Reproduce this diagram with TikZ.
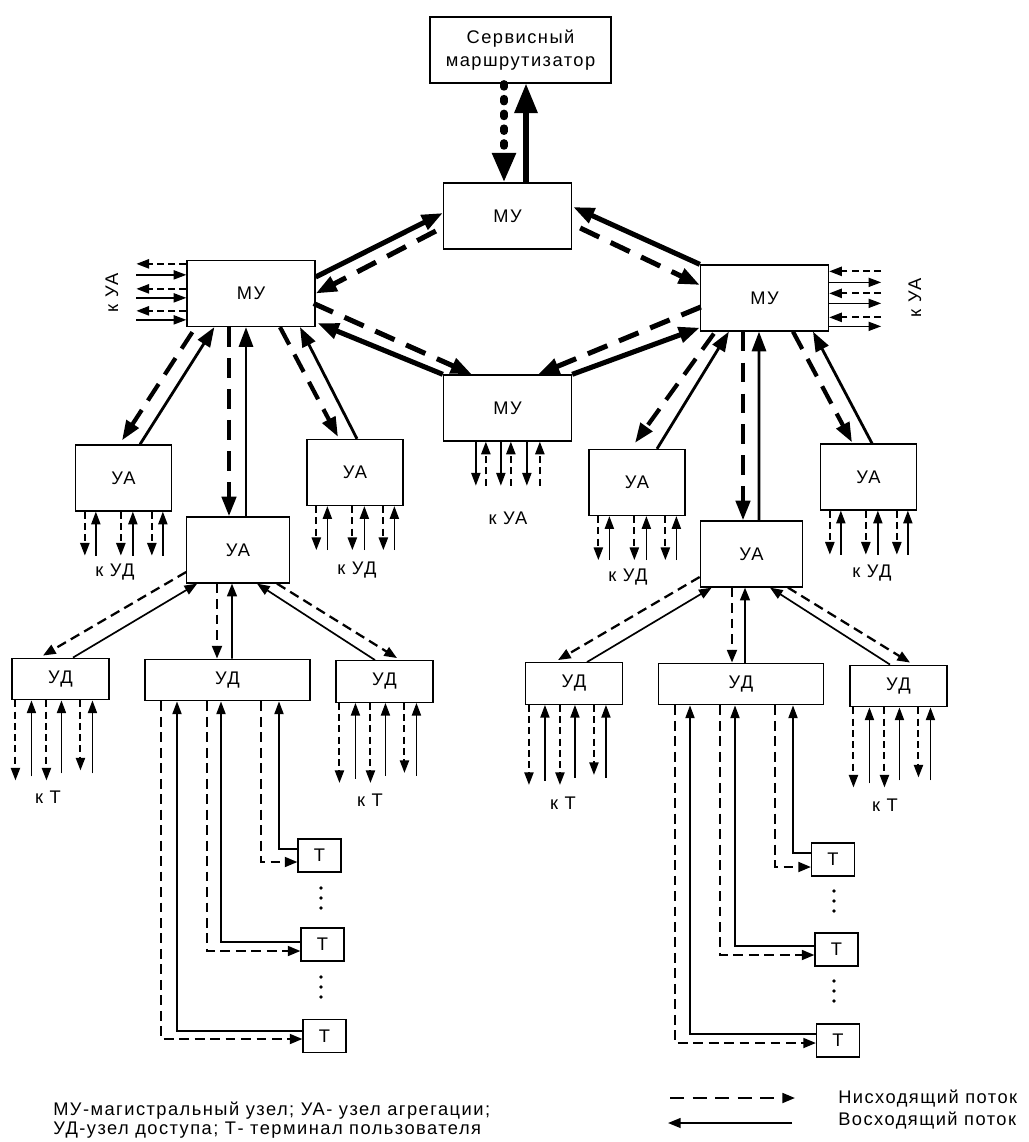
\documentclass[tikz,border=0pt]{standalone}
\usepackage{fontspec}
\setmainfont{Liberation Sans}
\newfontfamily\lblfont[LetterSpace=8]{Liberation Sans}
\usetikzlibrary{arrows.meta}

\tikzset{
  box/.style={draw, line width=0.9pt, inner sep=0pt, align=center,
    font=\lblfont\fontsize{13}{16}\selectfont},
  srbox/.style={box, minimum width=4.52cm, minimum height=1.65cm},
  mubox/.style={box, minimum width=3.2cm, minimum height=1.65cm},
  uabox/.style={box, minimum width=2.4cm, minimum height=1.65cm},
  uabig/.style={box, minimum width=2.56cm, minimum height=1.65cm},
  udbox/.style={box, minimum width=2.42cm, minimum height=1.04cm},
  udbig/.style={box, minimum width=4.12cm, minimum height=1.04cm},
  tbox/.style={box, minimum width=1.07cm, minimum height=0.82cm},
  lbl/.style={inner sep=0pt, font=\lblfont\fontsize{13}{13}\selectfont},
  % thick links between trunk nodes
  big/.style={line width=3.6pt, -{Triangle[length=15pt,width=11pt]}},
  bigdash/.style={big, dash pattern=on 15pt off 9pt},
  bigup/.style={line width=3.6pt, -{Triangle[length=21pt,width=16pt]}},
  dotline/.style={line width=5pt, line cap=round, dash pattern=on 2.5pt off 8pt,
    -{Triangle[length=21pt,width=16pt]}},
  mid/.style={line width=2pt, -{Triangle[length=14pt,width=10pt]}},
  middash/.style={line width=3pt, dash pattern=on 14pt off 8pt,
    -{Triangle[length=14pt,width=10pt]}},
  low/.style={line width=1.2pt, -{Triangle[length=9pt,width=7pt]}},
  lowdash/.style={low, line width=1.6pt, dash pattern=on 7pt off 4pt},
  stub/.style={line width=1pt, -{Triangle[length=9pt,width=6.5pt]}},
  stubdash/.style={stub, line width=1.4pt, dash pattern=on 5pt off 3pt},
}

\begin{document}
\begin{tikzpicture}[x=0.025cm, y=-0.025cm]
\useasboundingbox (0,0) rectangle (1029,1142);

% nodes
\node[srbox] (sr) at (520.5,50) {Сервисный\\маршрутизатор};
\node[mubox] (mu0) at (507.5,216) {МУ};
\node[mubox] (muL) at (251,293.5) {МУ};
\node[mubox] (muR) at (764.5,298) {МУ};
\node[mubox] (muC) at (507.5,408) {МУ};

\node[uabox] (uaL1) at (123.5,478) {УА};
\node[uabig] (uaL2) at (238,550) {УА};
\node[uabox] (uaL3) at (355,472.5) {УА};
\node[uabox] (uaR1) at (637,482.5) {УА};
\node[uabig] (uaR2) at (751.5,554) {УА};
\node[uabox] (uaR3) at (868.5,477) {УА};

\node[udbox] (udL1) at (60.5,679) {УД};
\node[udbig] (udL2) at (227.5,680) {УД};
\node[udbox] (udL3) at (384.5,681.5) {УД};
\node[udbox] (udR1) at (574,683.5) {УД};
\node[udbig] (udR2) at (741,684) {УД};
\node[udbox] (udR3) at (898.5,686) {УД};

\node[tbox] (tL1) at (319.5,855.5) {Т};
\node[tbox] (tL2) at (322.5,944.5) {Т};
\node[tbox] (tL3) at (324.5,1036) {Т};
\node[tbox] (tR1) at (833,859.5) {Т};
\node[tbox] (tR2) at (836.5,949.5) {Т};
\node[tbox] (tR3) at (838,1040.5) {Т};

% router
\draw[dotline] ([shift={(-16.5,0)}]sr.south) -- ([shift={(-3.5,0)}]mu0.north);
\draw[bigup] ([shift={(18.5,0)}]mu0.north) -- ([shift={(5.5,0)}]sr.south);

% trunk ring
\draw[big] ([shift={(0,-16.5)}]muL.east) -- ([shift={(0,-3)}]mu0.west);
\draw[bigdash] ([shift={(-7,15)}]mu0.west) -- (muL.east);
\draw[big] (muC.north west) -- ([shift={(2,-4)}]muL.south east);
\draw[bigdash] ([shift={(-2,10)}]muL.east) -- ([shift={(29,0)}]muC.north west);
\draw[big] (muR.north west) -- ([shift={(1,-9)}]mu0.east);
\draw[bigdash] ([shift={(8,12)}]mu0.east) -- ([shift={(0,-13)}]muR.west);
\draw[big] (muC.north east) -- ([shift={(0,-4)}]muR.south west);
\draw[bigdash] ([shift={(1,9)}]muR.west) -- ([shift={(-34,0)}]muC.north east);

% trunk to aggregation, left
\draw[middash] ([shift={(6,5)}]muL.south west) -- ([shift={(-1.5,-4)}]uaL1.north);
\draw[mid] ([shift={(16.5,0)}]uaL1.north) -- ([shift={(28,0)}]muL.south west);
\draw[middash] ([shift={(-22,0)}]muL.south) -- ([shift={(-9,0)}]uaL2.north);
\draw[mid] ([shift={(8,0)}]uaL2.north) -- ([shift={(-5,0)}]muL.south);
\draw[middash] ([shift={(29,0)}]muL.south) -- ([shift={(-17,-2)}]uaL3.north);
\draw[mid] ([shift={(2,0)}]uaL3.north) -- ([shift={(49,0)}]muL.south);

% trunk to aggregation, right
\draw[middash] ([shift={(14,2)}]muR.south west) -- ([shift={(-2,-6)}]uaR1.north);
\draw[mid] ([shift={(20,0)}]uaR1.north) -- ([shift={(29,0)}]muR.south west);
\draw[middash] ([shift={(-21.5,0)}]muR.south) -- ([shift={(-8.5,0)}]uaR2.north);
\draw[mid] ([shift={(7.5,0)}]uaR2.north) -- ([shift={(-5.5,0)}]muR.south);
\draw[middash] ([shift={(28.5,0)}]muR.south) -- ([shift={(-16.5,-1)}]uaR3.north);
\draw[mid] ([shift={(3.5,0)}]uaR3.north) -- ([shift={(48.5,0)}]muR.south);

% aggregation to access
\draw[lowdash] ([shift={(0,22)}]uaL2.west) -- ([shift={(-17.5,-2)}]udL1.north);
\draw[low] ([shift={(12.5,0)}]udL1.north) -- ([shift={(11,0)}]uaL2.south west);
\draw[lowdash] ([shift={(-21,0)}]uaL2.south) -- ([shift={(-10.5,0)}]udL2.north);
\draw[low] ([shift={(4.5,0)}]udL2.north) -- ([shift={(-6,0)}]uaL2.south);
\draw[low] ([shift={(-9.5,0)}]udL3.north) -- ([shift={(19,0)}]uaL2.south);
\draw[lowdash] ([shift={(39,0)}]uaL2.south) -- ([shift={(12.5,-2)}]udL3.north);

\draw[lowdash] ([shift={(0,23)}]uaR2.west) -- ([shift={(-16,-2)}]udR1.north);
\draw[low] ([shift={(13,0)}]udR1.north) -- ([shift={(12,0)}]uaR2.south west);
\draw[lowdash] ([shift={(-19.5,0)}]uaR2.south) -- ([shift={(-9,0)}]udR2.north);
\draw[low] ([shift={(4,0)}]udR2.north) -- ([shift={(-6.5,0)}]uaR2.south);
\draw[low] ([shift={(-8.5,0)}]udR3.north) -- ([shift={(18.5,0)}]uaR2.south);
\draw[lowdash] ([shift={(36.5,0)}]uaR2.south) -- ([shift={(11.5,-2)}]udR3.north);

% access to terminals
\draw[stub] ([shift={(0,-6.5)}]tL1.west) -| ([shift={(51.5,0)}]udL2.south);
\draw[lowdash] ([shift={(33.5,0)}]udL2.south) |- ([shift={(0,6.5)}]tL1.west);
\draw[stub] ([shift={(0,-2.5)}]tL2.west) -| ([shift={(-6.5,0)}]udL2.south);
\draw[lowdash] ([shift={(-20.5,0)}]udL2.south) |- ([shift={(0,6.5)}]tL2.west);
\draw[stub] ([shift={(0,-5)}]tL3.west) -| ([shift={(-50.5,0)}]udL2.south);
\draw[lowdash] ([shift={(-66.5,0)}]udL2.south) |- ([shift={(0,3)}]tL3.west);

\draw[stub] ([shift={(0,-6.5)}]tR1.west) -| ([shift={(52,0)}]udR2.south);
\draw[lowdash] ([shift={(34,0)}]udR2.south) |- ([shift={(0,7.5)}]tR1.west);
\draw[stub] ([shift={(0,-3.5)}]tR2.west) -| ([shift={(-6,0)}]udR2.south);
\draw[lowdash] ([shift={(-21,0)}]udR2.south) |- ([shift={(0,5.5)}]tR2.west);
\draw[stub] ([shift={(0,-6.5)}]tR3.west) -| ([shift={(-51,0)}]udR2.south);
\draw[lowdash] ([shift={(-66,0)}]udR2.south) |- ([shift={(0,2.5)}]tR3.west);

% dots between terminals
\foreach \y in {888,898,908,977,987,997} \fill (321,\y) circle[radius=1.8];
\foreach \y in {891,901,911,981,991,1001} \fill (834,\y) circle[radius=1.8];

% outgoing stubs
\foreach \d in {4,29,51} \draw[stubdash] ([shift={(0,\d)}]muL.north west) -- +(-50,0);
\foreach \d in {15,38,60} \draw[stub] ([shift={(-50,\d)}]muL.north west) -- ([shift={(0,\d)}]muL.north west);
\foreach \d in {7,29,53} \draw[stubdash] ([shift={(52,\d)}]muR.north east) -- ([shift={(0,\d)}]muR.north east);
\foreach \d in {18,39,62} \draw[stub] ([shift={(0,\d)}]muR.north east) -- +(52,0);
\foreach \d in {33,58,84} \draw[stub] ([shift={(\d,0)}]muC.south west) -- +(0,44);
\foreach \d in {43,68,97} \draw[stubdash] ([shift={(\d,44)}]muC.south west) -- ([shift={(\d,0)}]muC.south west);

\foreach \n in {uaL1,uaL3,uaR1,uaR3}{
  \foreach \d in {10,46,77} \draw[stubdash] ([shift={(\d,0)}]\n.south west) -- +(0,44);
  \foreach \d in {21,58,88} \draw[stub] ([shift={(\d,44)}]\n.south west) -- ([shift={(\d,0)}]\n.south west);
}
\foreach \n in {udL1,udL3,udR1,udR3}{
  \foreach \d/\l in {4/80,35/80,69/70} \draw[stubdash] ([shift={(\d,0)}]\n.south west) -- +(0,\l);
  \foreach \d/\l in {20/76,50/73,81/73} \draw[stub] ([shift={(\d,\l)}]\n.south west) -- ([shift={(\d,0)}]\n.south west);
}

% labels
\node[lbl, rotate=90] (kuaL) at (112,293) {к УА};
\node[lbl, rotate=90] (kuaR) at (915,298) {к УА};
\node[lbl] (kuaC) at (508,518) {к УА};
\node[lbl] (kudL1) at (115,572) {к УД};
\node[lbl] (kudL3) at (357,570) {к УД};
\node[lbl] (kudR1) at (628,577) {к УД};
\node[lbl] (kudR3) at (872,573) {к УД};
\node[lbl] (ktL1) at (48,797) {к Т};
\node[lbl] (ktL3) at (370,800) {к Т};
\node[lbl] (ktR1) at (563,803) {к Т};
\node[lbl] (ktR3) at (885,805) {к Т};

% legend
\node[lbl, anchor=west, align=left] (leg) at (53,1120)
  {МУ-магистральный узел; УА- узел агрегации;\\УД-узел доступа; Т- терминал пользователя};
\node[lbl, anchor=west] (down) at (838,1099) {Нисходящий поток};
\node[lbl, anchor=west] (up) at (838,1121) {Восходящий поток};
\coordinate (dA) at (670,1098);
\coordinate (dB) at (795,1098);
\coordinate (uA) at (792,1123);
\coordinate (uB) at (668,1123);
\draw[lowdash, dash pattern=on 10pt off 6pt] (dA) -- (dB);
\draw[low] (uA) -- (uB);
\end{tikzpicture}
\end{document}
